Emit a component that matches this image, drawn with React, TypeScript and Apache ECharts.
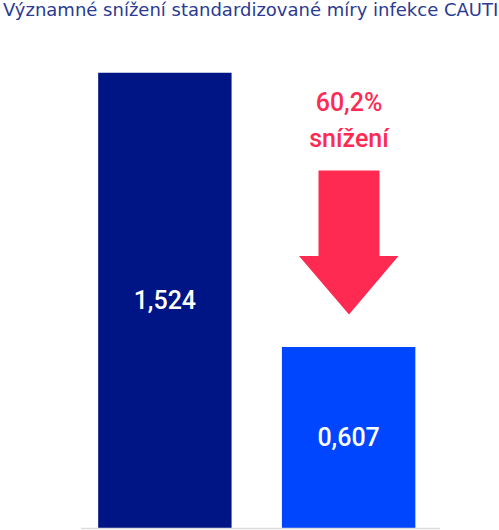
import React, { useEffect, useRef } from "react";
import * as echarts from "echarts";

const categories = ["Před", "Po"];
const values = [1.524, 0.607];
const valueLabels = ["1,524", "0,607"];
const barColors = ["#001585", "#0046FF"];
const titleText = "Významné snížení standardizované míry infekce CAUTI";
const annotationLines = ["60,2%", "snížení"];

const FONT = "Roboto, 'Noto Sans', sans-serif";

export default function App() {
  const ref = useRef<HTMLDivElement>(null);
  useEffect(() => {
    if (!ref.current) return;
    const chart = echarts.init(ref.current, undefined, { renderer: "svg" });
    chart.setOption({
      animation: false,
      title: {
        text: titleText,
        left: 3,
        top: 0,
        padding: 0,
        textStyle: { color: "#2b3a92", fontSize: 18, fontWeight: "normal", fontFamily: "'DejaVu Sans', sans-serif" },
      },
      grid: { left: 73, right: 58.5, top: 50, bottom: 1.5, containLabel: false },
      xAxis: {
        type: "category",
        data: categories,
        axisLine: { show: false },
        axisTick: { show: false },
        axisLabel: { show: false },
      },
      yAxis: {
        type: "value",
        min: 0,
        max: 1.6,
        show: false,
        splitLine: { show: false },
      },
      series: [
        {
          type: "bar",
          barWidth: 133.4,
          data: values.map((v, i) => ({
            value: v,
            itemStyle: { color: barColors[i] },
          })),
          label: {
            show: true,
            position: "inside",
            color: "#ffffff",
            fontSize: 25,
            fontWeight: 500,
            fontFamily: FONT,
            formatter: (p: any) => valueLabels[p.dataIndex],
          },
        },
      ],
      graphic: [
        {
          type: "line",
          shape: { x1: 81, y1: 528.5, x2: 440, y2: 528.5 },
          style: { stroke: "#dddddd", lineWidth: 1.5 },
          z: 10,
        },
        {
          type: "polygon",
          shape: {
            points: [
              [318.5, 170.5],
              [379.5, 170.5],
              [379.5, 256],
              [398.5, 256],
              [349, 314.5],
              [299, 256],
              [318.5, 256],
            ],
          },
          style: { fill: "#FF2A52" },
        },
        {
          type: "text",
          x: 349,
          y: 115,
          style: {
            text: annotationLines[0],
            fill: "#FF2A52",
            font: `500 25px ${FONT}`,
            align: "center",
            verticalAlign: "bottom",
          },
        },
        {
          type: "text",
          x: 349,
          y: 151,
          style: {
            text: annotationLines[1],
            fill: "#FF2A52",
            font: `500 25px ${FONT}`,
            align: "center",
            verticalAlign: "bottom",
          },
        },
      ],
    });
    return () => chart.dispose();
  }, []);
  return <div ref={ref} style={{ width: 499, height: 530, position: "absolute", left: 0, top: 0 }} />;
}
